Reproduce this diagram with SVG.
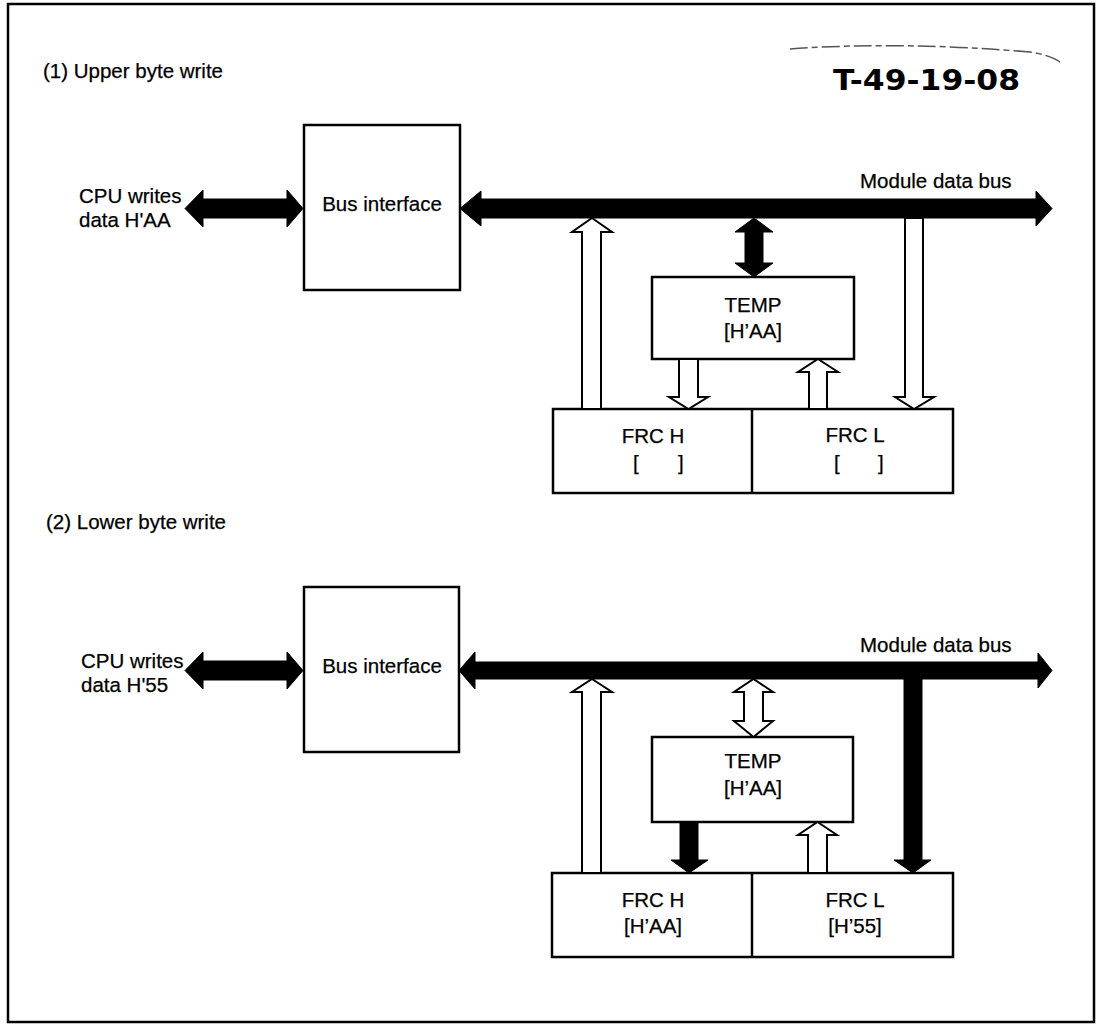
<svg xmlns="http://www.w3.org/2000/svg" width="1097" height="1024" viewBox="0 0 1097 1024">
<style>
  .box { fill: #fff; stroke: #000; stroke-width: 2.5; }
  .solid { fill: #000; stroke: #000; stroke-width: 1; stroke-linejoin: miter; }
  .open { fill: #fff; stroke: #000; stroke-width: 2; stroke-linejoin: miter; }
  text { font-family: "Liberation Sans", Arial, sans-serif; font-size: 20.5px; fill: #000; stroke: #000; stroke-width: 0.25; }
  .c { text-anchor: middle; }
  .stamp { font-family: "DejaVu Sans", "Liberation Sans", sans-serif; font-weight: bold; font-size: 29px; stroke-width: 0; }
</style>
<rect x="0" y="0" width="1097" height="1024" fill="#fff"/>
<rect id="frame" x="8" y="4" width="1086" height="1018" fill="none" stroke="#000" stroke-width="2.5"/>

<!-- stamp -->
<g id="stamp">
  <path d="M790,49 Q900,41 1030,52 Q1050,55 1060,62" fill="none" stroke="#555" stroke-width="1.5" stroke-dasharray="18 4 6 4"/>
  <text class="stamp" x="833" y="90" textLength="187" lengthAdjust="spacingAndGlyphs">T-49-19-08</text>
</g>

<!-- ===== Section 1 ===== -->
<text id="title1" x="43" y="78">(1) Upper byte write</text>
<g id="cpu1">
  <text x="79" y="203">CPU writes</text>
  <text x="79" y="227">data H'AA</text>
</g>
<g id="busif1">
  <rect class="box" x="304" y="125" width="156" height="165"/>
  <text class="c" x="382" y="211">Bus interface</text>
</g>
<text id="mdb1" x="860" y="188">Module data bus</text>
<g id="temp1">
  <rect class="box" x="652" y="277" width="202" height="82"/>
  <text class="c" x="753" y="312">TEMP</text>
  <text class="c" x="753" y="338">[H’AA]</text>
</g>
<g id="frc1">
  <rect class="box" x="553" y="409" width="400" height="84"/>
  <line x1="752" y1="409" x2="752" y2="493" stroke="#000" stroke-width="2.5"/>
  <text class="c" x="653" y="443">FRC H</text>
  <text x="633" y="470">[</text>
  <text x="678" y="470">]</text>
  <text class="c" x="855" y="442">FRC L</text>
  <text x="834" y="470">[</text>
  <text x="878" y="470">]</text>
</g>

<!-- ===== Section 2 ===== -->
<text id="title2" x="46" y="529">(2) Lower byte write</text>
<g id="cpu2">
  <text x="81" y="668">CPU writes</text>
  <text x="81" y="692">data H'55</text>
</g>
<g id="busif2">
  <rect class="box" x="304" y="587" width="155" height="165"/>
  <text class="c" x="382" y="673">Bus interface</text>
</g>
<text id="mdb2" x="860" y="652">Module data bus</text>
<g id="temp2">
  <rect class="box" x="652" y="737" width="201" height="85"/>
  <text class="c" x="753" y="768">TEMP</text>
  <text class="c" x="753" y="795">[H’AA]</text>
</g>
<g id="frc2">
  <rect class="box" x="552" y="873" width="401" height="84"/>
  <line x1="752" y1="873" x2="752" y2="957" stroke="#000" stroke-width="2.5"/>
  <text class="c" x="653" y="907">FRC H</text>
  <text class="c" x="653" y="933">[H’AA]</text>
  <text class="c" x="855" y="907">FRC L</text>
  <text class="c" x="855" y="933">[H’55]</text>
</g>

<!-- ===== Connectors ===== -->
<g id="connectors">
  <!-- section 1 -->
  <polygon class="solid" points="185,208.5 203,190 203,199 287,199 287,190 303,208.5 287,227 287,218 203,218 203,227"/>
  <polygon class="solid" points="460,208.5 481,191 481,199 1036,199 1036,191 1052,208.5 1036,226 1036,218 481,218 481,226"/>
  <polygon class="solid" points="754,218 773,232 763,232 763,263 773,263 754,277 735,263 745,263 745,232 735,232"/>
  <polygon class="open" points="592,218 612,232 601,232 601,409 582,409 582,232 572,232"/>
  <polygon class="open" points="679,359 698,359 698,397 708,397 688.5,409 669,397 679,397"/>
  <polygon class="open" points="818,359 838,372 827,372 827,409 809,409 809,372 798,372"/>
  <polygon class="open" points="905,218 923,218 923,397 934,397 914,409 895,397 905,397"/>

  <!-- section 2 -->
  <polygon class="solid" points="185,670.5 203,652 203,661 287,661 287,652 303,670.5 287,689 287,680 203,680 203,689"/>
  <polygon class="solid" points="459,670.5 475,652 475,662 1038,662 1038,653 1052,670.5 1038,688 1038,679 475,679 475,689"/>
  <polygon class="open" points="592,679 612,692 601,692 601,873 582,873 582,692 572,692"/>
  <polygon class="open" points="753.5,679 773,692 763,692 763,721 773,721 753.5,737 734,721 744,721 744,692 734,692"/>
  <polygon class="solid" points="680,822 698,822 698,860 708,860 689,873 671,860 680,860"/>
  <polygon class="open" points="817.5,822 837,835 827,835 827,873 808,873 808,835 798,835"/>
  <polygon class="solid" points="904,679 922,679 922,860 931,860 913,873 894,860 904,860"/>
</g>
</svg>
